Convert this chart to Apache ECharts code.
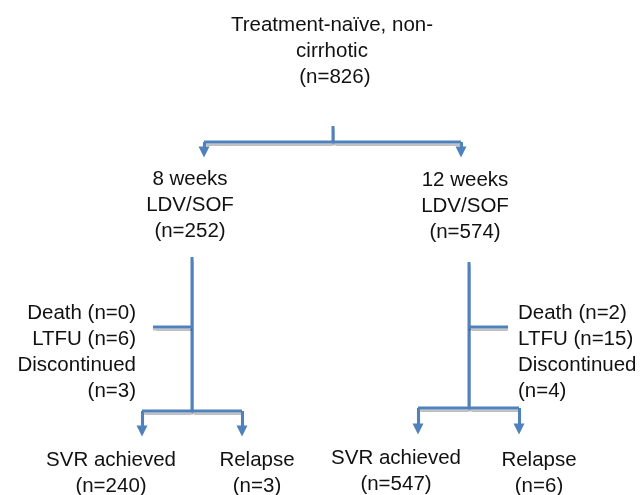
<!DOCTYPE html>
<html>
<head>
<meta charset="utf-8">
<script src="https://cdn.jsdelivr.net/npm/echarts@6/dist/echarts.min.js"></script>
<style>
  html, body { margin: 0; padding: 0; background: #fff; }
  #chart { width: 643px; height: 495px; }
</style>
</head>
<body>
<div id="chart"></div>
<script>
// flow boxes: text, anchor x/y (pixel frame of the figure), alignment
const boxLabels = [
  "Treatment-naïve, non-\ncirrhotic\n (n=826)",
  "8 weeks\nLDV/SOF\n(n=252)",
  "12 weeks\nLDV/SOF\n(n=574)",
  "Death (n=0)\nLTFU (n=6)\nDiscontinued\n(n=3)",
  "Death (n=2)\nLTFU (n=15)\nDiscontinued\n(n=4)",
  "SVR achieved\n(n=240)",
  "Relapse\n(n=3)",
  "SVR achieved\n(n=547)",
  "Relapse\n(n=6)"
];
const boxX = [332, 190, 465, 136, 518, 111, 257, 396, 539];
const boxY = [51, 205, 206, 352, 352, 473, 473, 471, 473];
const boxAlign = ["center", "center", "center", "right", "left", "center", "center", "center", "center"];

// connectors without arrowheads
const plainPaths = [
  [[333, 126], [333, 142]],
  [[192, 257], [192, 411]],
  [[192, 327], [153, 327]],
  [[469, 262], [469, 408]],
  [[469, 327], [508, 327]]
];
// connectors ending in an arrowhead (last point = centre of the head)
const arrowPaths = [
  [[333, 142], [204, 142], [204, 152]],
  [[333, 142], [461, 142], [461, 152]],
  [[192, 411], [142, 411], [142, 431]],
  [[192, 411], [242, 411], [242, 431]],
  [[469, 408], [418, 408], [418, 429]],
  [[469, 408], [519, 408], [519, 429]]
];

const lineColor = "#4f81bd";
const chart = echarts.init(document.getElementById("chart"), null, { renderer: "canvas" });

const lineStyle = {
  color: lineColor,
  width: 3,
  opacity: 1,
  curveness: 0,
  shadowColor: "rgba(0,0,0,0.25)",
  shadowOffsetY: 2,
  shadowBlur: 1
};

// polylines cannot carry end symbols, so the last leg of each arrow path is its own line
const arrowBodies = arrowPaths.map((p) => ({ coords: p.slice(0, -1) }));
const arrowTips = arrowPaths.map((p) => ({ coords: p.slice(-2) }));

chart.setOption({
  animation: false,
  backgroundColor: "#fff",
  grid: { left: 0, right: 0, top: 0, bottom: 0 },
  xAxis: { type: "value", min: 0, max: 643, show: false },
  yAxis: { type: "value", min: 0, max: 495, inverse: true, show: false },
  series: [
    {
      type: "lines",
      coordinateSystem: "cartesian2d",
      polyline: true,
      lineStyle: lineStyle,
      data: plainPaths.map((p) => ({ coords: p })).concat(arrowBodies)
    },
    {
      type: "lines",
      coordinateSystem: "cartesian2d",
      symbol: ["none", "triangle"],
      symbolSize: [11, 11],
      lineStyle: lineStyle,
      itemStyle: { color: lineColor },
      data: arrowTips
    },
    {
      type: "custom",
      coordinateSystem: "cartesian2d",
      data: boxLabels.map((t, i) => [boxX[i], boxY[i], i]),
      renderItem: (params, api) => {
        const i = api.value(2);
        const pt = api.coord([api.value(0), api.value(1)]);
        return {
          type: "text",
          x: pt[0],
          y: pt[1],
          style: {
            text: boxLabels[i],
            align: boxAlign[i],
            verticalAlign: "middle",
            fontFamily: "Liberation Sans, Arial, Helvetica, sans-serif",
            fontSize: 20.5,
            lineHeight: 26,
            fill: "#111"
          }
        };
      }
    }
  ]
});
</script>
</body>
</html>
